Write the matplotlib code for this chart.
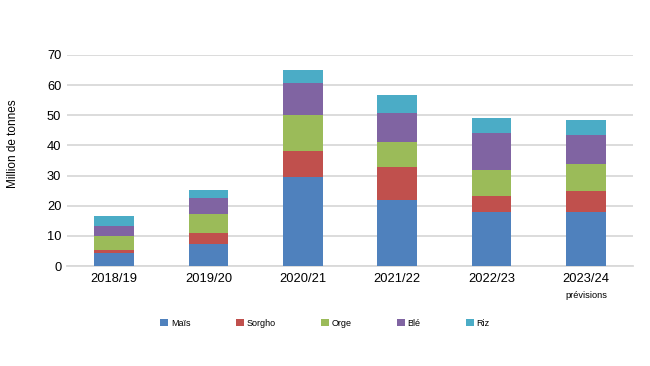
import matplotlib
matplotlib.use("Agg")
import matplotlib.pyplot as plt
import numpy as np
from matplotlib.patches import Patch

plt.rcParams["font.family"] = ["Liberation Sans", "DejaVu Sans"]

# ── Data (million tonnes) ────────────────────────────────────────────────────
seasons = ["2018/19", "2019/20", "2020/21", "2021/22", "2022/23", "2023/24"]
mais    = [4.5, 7.4, 29.6, 21.9, 18.0, 18.0]
sorgho  = [0.7, 3.6, 8.6, 10.9, 5.1, 6.8]
orge    = [4.9, 6.1, 11.9, 8.3, 8.9, 9.1]
ble     = [3.3, 5.4, 10.7, 9.8, 12.0, 9.6]
riz     = [3.3, 2.7, 4.2, 5.8, 5.0, 4.9]

series = [("Maïs", mais, "#4F81BD"),
          ("Sorgho", sorgho, "#C0504D"),
          ("Orge", orge, "#9BBB59"),
          ("Blé", ble, "#8064A2"),
          ("Riz", riz, "#4BACC6")]

fig = plt.figure(figsize=(6.5, 3.66), dpi=100)
ax = fig.add_axes([0.103, 0.273, 0.871, 0.577])

x = np.arange(len(seasons))
bottom = np.zeros(len(seasons))
for name, vals, col in series:
    ax.bar(x, vals, 0.42, bottom=bottom, color=col, zorder=3)
    bottom += np.array(vals)

ax.set_xlim(-0.5, len(seasons) - 0.5)
ax.set_ylim(0, 70)
ax.set_yticks(range(0, 71, 10))
ax.grid(axis="y", color="#d9d9d9", linewidth=1.3, zorder=0)
for s in ["top", "right", "left"]:
    ax.spines[s].set_visible(False)
ax.spines["bottom"].set_color("#d9d9d9")
ax.spines["bottom"].set_linewidth(1.3)
ax.tick_params(axis="both", length=0, labelsize=9.3, colors="#000000")
ax.tick_params(axis="y", pad=4)
ax.tick_params(axis="x", pad=5)
ax.set_xticks(x)
ax.set_xticklabels(seasons)

fig.text(12.7 / 650, 1 - 144 / 366, "Million de tonnes", rotation=90,
         ha="center", va="center", fontsize=8.5)

ax.text(x[-1], -9.6, "prévisions", ha="center", va="center", fontsize=6.7)

handles = [Patch(facecolor=c, label=n) for n, _, c in series]
fig.legend(handles=handles, loc="center", bbox_to_anchor=(0.5, 0.117), ncol=5,
           frameon=False, fontsize=6.5, handlelength=0.9, handleheight=0.9,
           handletextpad=0.3, columnspacing=5.0)

fig.savefig("out.png", dpi=100)
